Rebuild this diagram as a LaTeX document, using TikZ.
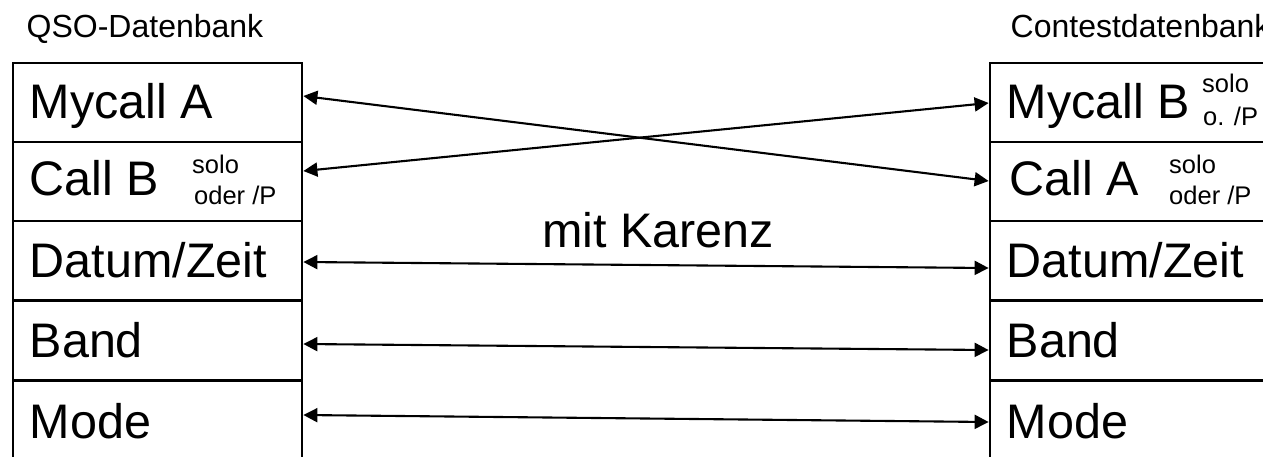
\documentclass[tikz,border=0pt]{standalone}
\usepackage{fontspec}
\setmainfont{Liberation Sans}
\usetikzlibrary{arrows.meta}
\tikzset{
  rowbox/.style={draw=black, line width=2.8pt, rectangle, minimum height=79pt, inner sep=0pt},
  lbox/.style={rowbox, minimum width=289pt},
  rbox/.style={rowbox, minimum width=310pt},
  bigtxt/.style={anchor=base west, inner sep=0pt, font=\fontsize{48.5}{56}\selectfont},
  smalltxt/.style={anchor=base west, inner sep=0pt, font=\fontsize{25.5}{31}\selectfont},
  titletxt/.style={anchor=base west, inner sep=0pt, font=\fontsize{32}{37}\selectfont},
  link/.style={line width=2.1pt, {Triangle[length=14pt,width=14pt]}-{Triangle[length=14pt,width=14pt]}}
}
\begin{document}
\begin{tikzpicture}[x=1pt,y=-1pt]
\useasboundingbox (0,0) rectangle (1263,456);
\clip (0,0) rectangle (1263,456);
\fill[white] (0,0) rectangle (1263,456);
% titles
\node[titletxt] (tl) at (26.5,37) {QSO-Datenbank};
\node[titletxt] (tr) at (1010.5,37) {Contestdatenbank};
% left boxes
\node[lbox] (L1) at (157.5,102.5) {};
\node[lbox] (L2) at (157.5,181.5) {};
\node[lbox] (L3) at (157.5,260.5) {};
\node[lbox] (L4) at (157.5,340.5) {};
\node[lbox] (L5) at (157.5,420.5) {};
% right boxes
\node[rbox] (R1) at (1145,102.5) {};
\node[rbox] (R2) at (1145,181.5) {};
\node[rbox] (R3) at (1145,260.5) {};
\node[rbox] (R4) at (1145,340.5) {};
\node[rbox] (R5) at (1145,420.5) {};
% left texts
\node[bigtxt] (t1) at (29.5,118) {Mycall A};
\node[bigtxt] (t2) at (29.5,195) {Call B};
\node[smalltxt] (s2a) at (192,173) {solo};
\node[smalltxt] (s2b) at (194,204) {oder /P};
\node[bigtxt] (t3) at (29.5,277) {Datum/Zeit};
\node[bigtxt] (t4) at (29.5,357) {Band};
\node[bigtxt] (t5) at (29.5,438) {Mode};
% right texts
\node[bigtxt] (u1) at (1006.5,118) {Mycall B};
\node[smalltxt] (v1a) at (1202,92) {solo};
\node[smalltxt] (v1b) at (1203,125) {o. /P};
\node[bigtxt] (u2) at (1009.5,195) {Call A};
\node[smalltxt] (v2a) at (1169,173) {solo};
\node[smalltxt] (v2b) at (1169,204) {oder /P};
\node[bigtxt] (u3) at (1006.5,277) {Datum/Zeit};
\node[bigtxt] (u4) at (1006.5,357) {Band};
\node[bigtxt] (u5) at (1006.5,438) {Mode};
% middle label
\node[bigtxt] (mk) at (542,247) {mit Karenz};
% connectors
\draw[link] ([yshift=6.5pt]L1.east) -- ([yshift=0.5pt]R2.west);
\draw[link] ([yshift=10.5pt]L2.east) -- ([yshift=-0.5pt]R1.west);
\draw[link] ([yshift=-1.5pt]L3.east) -- ([yshift=-7.5pt]R3.west);
\draw[link] ([yshift=-3.5pt]L4.east) -- ([yshift=-9.5pt]R4.west);
\draw[link] ([yshift=5.5pt]L5.east) -- ([yshift=-1.5pt]R5.west);
\end{tikzpicture}
\end{document}
